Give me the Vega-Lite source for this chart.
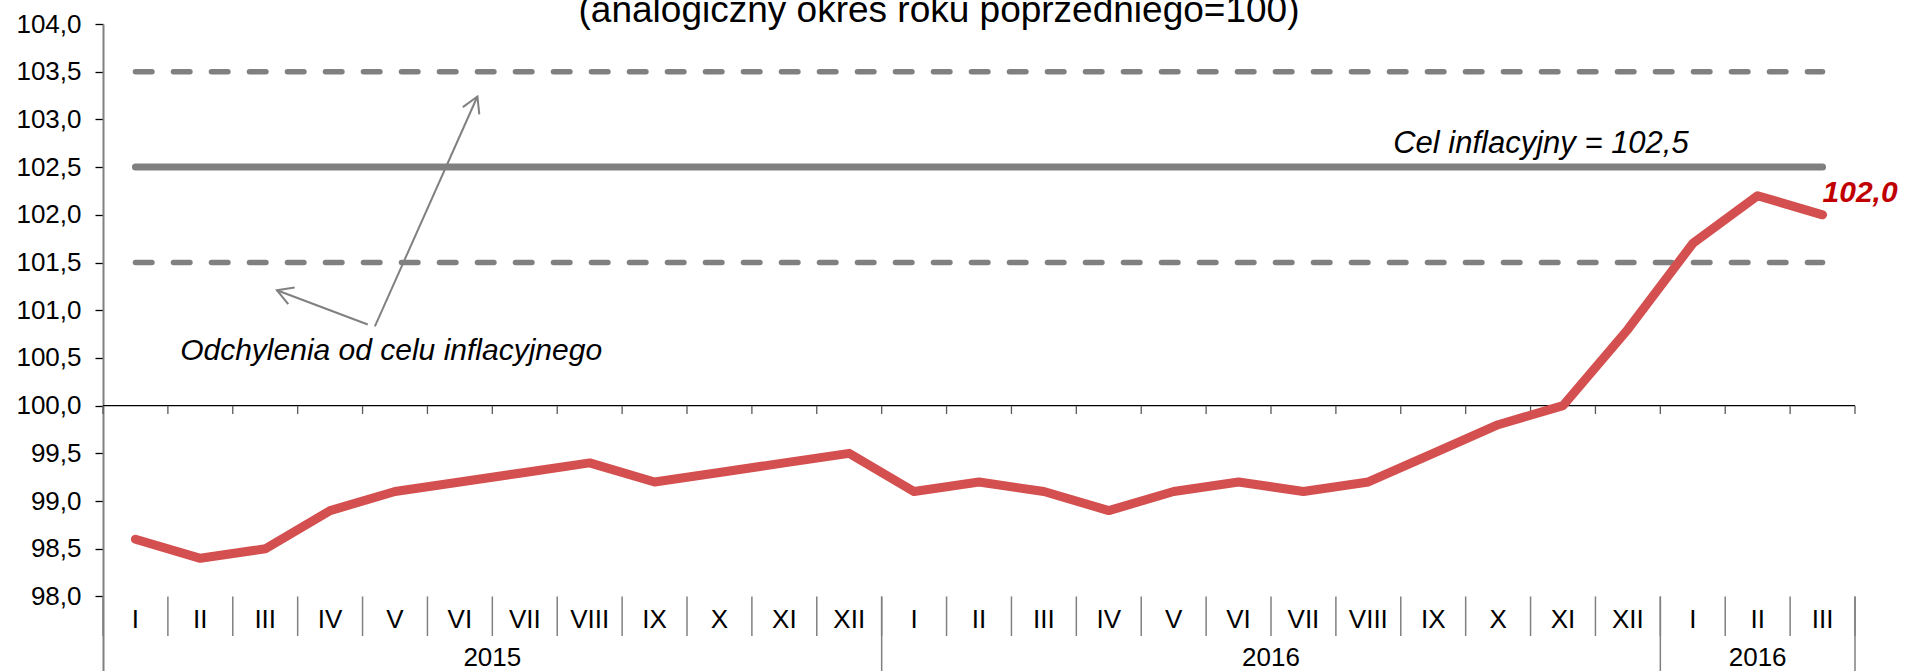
{
  "$schema": "https://vega.github.io/schema/vega-lite/v6.json",
  "autosize": {"type": "none"},
  "padding": {"left": 103, "top": 24, "right": 52, "bottom": 0},
  "width": 1752,
  "height": 647,
  "title": {
    "text": "(analogiczny okres roku poprzedniego=100)",
    "font": "Liberation Sans",
    "fontSize": 37,
    "fontWeight": "normal",
    "color": "#000000",
    "anchor": "middle",
    "offset": 0,
    "dx": -40,
    "dy": 19
  },
  "config": {
    "view": {"stroke": null},
    "locale": {"number": {"decimal": ",", "thousands": " ", "grouping": [3], "currency": ["", " zł"]}},
    "font": "Liberation Sans"
  },
  "datasets": {
    "cpi": [
      {"i": 0, "m": "I", "v": 98.6}, {"i": 1, "m": "II", "v": 98.4}, {"i": 2, "m": "III", "v": 98.5},
      {"i": 3, "m": "IV", "v": 98.9}, {"i": 4, "m": "V", "v": 99.1}, {"i": 5, "m": "VI", "v": 99.2},
      {"i": 6, "m": "VII", "v": 99.3}, {"i": 7, "m": "VIII", "v": 99.4}, {"i": 8, "m": "IX", "v": 99.2},
      {"i": 9, "m": "X", "v": 99.3}, {"i": 10, "m": "XI", "v": 99.4}, {"i": 11, "m": "XII", "v": 99.5},
      {"i": 12, "m": "I", "v": 99.1}, {"i": 13, "m": "II", "v": 99.2}, {"i": 14, "m": "III", "v": 99.1},
      {"i": 15, "m": "IV", "v": 98.9}, {"i": 16, "m": "V", "v": 99.1}, {"i": 17, "m": "VI", "v": 99.2},
      {"i": 18, "m": "VII", "v": 99.1}, {"i": 19, "m": "VIII", "v": 99.2}, {"i": 20, "m": "IX", "v": 99.5},
      {"i": 21, "m": "X", "v": 99.8}, {"i": 22, "m": "XI", "v": 100.0}, {"i": 23, "m": "XII", "v": 100.8},
      {"i": 24, "m": "I", "v": 101.7}, {"i": 25, "m": "II", "v": 102.2}, {"i": 26, "m": "III", "v": 102.0}
    ],
    "bounds": [
      {"b": -0.5}, {"b": 0.5}, {"b": 1.5}, {"b": 2.5}, {"b": 3.5}, {"b": 4.5}, {"b": 5.5},
      {"b": 6.5}, {"b": 7.5}, {"b": 8.5}, {"b": 9.5}, {"b": 10.5}, {"b": 11.5}, {"b": 12.5},
      {"b": 13.5}, {"b": 14.5}, {"b": 15.5}, {"b": 16.5}, {"b": 17.5}, {"b": 18.5}, {"b": 19.5},
      {"b": 20.5}, {"b": 21.5}, {"b": 22.5}, {"b": 23.5}, {"b": 24.5}, {"b": 25.5}, {"b": 26.5}
    ],
    "yearBounds": [{"b": 11.5}, {"b": 23.5}, {"b": 26.5}],
    "years": [{"label": "2015", "c": 5.5}, {"label": "2016", "c": 17.5}, {"label": "2016", "c": 25}],
    "targets": [{"v": 103.5, "kind": "band"}, {"v": 101.5, "kind": "band"}, {"v": 102.5, "kind": "target"}],
    "arrows": [
      {"id": 1, "x": 3.69, "y": 100.83, "x2": 5.27, "y2": 103.24},
      {"id": 2, "x": 3.58, "y": 100.85, "x2": 2.18, "y2": 101.21}
    ],
    "notes": [
      {"t": "Cel inflacyjny = 102,5", "x": 21.66, "y": 102.645, "k": "cel"},
      {"t": "Odchylenia od celu inflacyjnego", "x": 3.94, "y": 100.48, "k": "odch"}
    ]
  },
  "encoding": {
    "x": {"type": "quantitative", "scale": {"domain": [-0.5, 26.5], "nice": false, "zero": false}, "axis": null},
    "y": {"type": "quantitative", "scale": {"domain": [97.219, 104], "nice": false, "zero": false}}
  },
  "layer": [
    {
      "data": {"name": "targets"},
      "transform": [{"filter": "datum.kind == 'band'"}],
      "mark": {"type": "rule", "color": "#808080", "strokeWidth": 5.5, "strokeDash": [16.5, 21.5], "strokeCap": "round"},
      "encoding": {
        "x": {"datum": 0},
        "x2": {"datum": 26},
        "y": {
          "field": "v", "type": "quantitative",
          "axis": {
            "values": [98, 98.5, 99, 99.5, 100, 100.5, 101, 101.5, 102, 102.5, 103, 103.5, 104],
            "format": ".1f", "title": null, "grid": false,
            "labelFont": "Liberation Sans", "labelFontSize": 26, "labelColor": "#000000",
            "labelPadding": 14, "tickSize": 8, "tickColor": "#000000", "tickWidth": 1.3,
            "domainColor": "#808080", "domainWidth": 2
          }
        }
      }
    },
    {
      "data": {"name": "targets"},
      "transform": [{"filter": "datum.kind == 'target'"}],
      "mark": {"type": "rule", "color": "#808080", "strokeWidth": 7, "strokeCap": "round"},
      "encoding": {"x": {"datum": 0}, "x2": {"datum": 26}, "y": {"field": "v", "type": "quantitative"}}
    },
    {
      "data": {"name": "arrows"},
      "mark": {"type": "rule", "color": "#808080", "strokeWidth": 2},
      "encoding": {
        "x": {"field": "x", "type": "quantitative"},
        "x2": {"field": "x2"},
        "y": {"field": "y", "type": "quantitative"},
        "y2": {"field": "y2"}
      }
    },
    {
      "data": {"name": "arrows"},
      "transform": [{"filter": "datum.id == 1"}],
      "mark": {"type": "point", "shape": "M -0.5 0.866 L 0 0 L 0.5 0.866", "filled": false, "stroke": "#808080", "strokeWidth": 2, "size": 1296, "angle": 24, "opacity": 1},
      "encoding": {"x": {"field": "x2", "type": "quantitative"}, "y": {"field": "y2", "type": "quantitative"}}
    },
    {
      "data": {"name": "arrows"},
      "transform": [{"filter": "datum.id == 2"}],
      "mark": {"type": "point", "shape": "M -0.5 0.866 L 0 0 L 0.5 0.866", "filled": false, "stroke": "#808080", "strokeWidth": 2, "size": 1296, "angle": 291, "opacity": 1},
      "encoding": {"x": {"field": "x2", "type": "quantitative"}, "y": {"field": "y2", "type": "quantitative"}}
    },
    {
      "data": {"name": "notes"},
      "transform": [{"filter": "datum.k == 'cel'"}],
      "mark": {"type": "text", "font": "Liberation Sans", "fontStyle": "italic", "fontSize": 31, "color": "#000000", "align": "center", "baseline": "alphabetic"},
      "encoding": {"x": {"field": "x", "type": "quantitative"}, "y": {"field": "y", "type": "quantitative"}, "text": {"field": "t"}}
    },
    {
      "data": {"name": "notes"},
      "transform": [{"filter": "datum.k == 'odch'"}],
      "mark": {"type": "text", "font": "Liberation Sans", "fontStyle": "italic", "fontSize": 30, "color": "#000000", "align": "center", "baseline": "alphabetic"},
      "encoding": {"x": {"field": "x", "type": "quantitative"}, "y": {"field": "y", "type": "quantitative"}, "text": {"field": "t"}}
    },
    {
      "data": {"values": [{"v": 100}]},
      "mark": {"type": "rule", "color": "#000000", "strokeWidth": 1.3},
      "encoding": {"x": {"datum": -0.5}, "x2": {"datum": 26.5}, "y": {"field": "v", "type": "quantitative"}}
    },
    {
      "data": {"name": "bounds"},
      "mark": {"type": "rule", "color": "#595959", "strokeWidth": 1.3},
      "encoding": {"x": {"field": "b", "type": "quantitative"}, "y": {"datum": 100}, "y2": {"datum": 99.913}}
    },
    {
      "data": {"name": "bounds"},
      "mark": {"type": "rule", "color": "#808080", "strokeWidth": 1.5},
      "encoding": {"x": {"field": "b", "type": "quantitative"}, "y": {"datum": 98}, "y2": {"datum": 97.586}}
    },
    {
      "data": {"name": "yearBounds"},
      "mark": {"type": "rule", "color": "#808080", "strokeWidth": 1.5},
      "encoding": {"x": {"field": "b", "type": "quantitative"}, "y": {"datum": 98}, "y2": {"datum": 97.219}}
    },
    {
      "data": {"name": "cpi"},
      "mark": {"type": "text", "font": "Liberation Sans", "fontSize": 26, "color": "#000000", "align": "center", "baseline": "alphabetic"},
      "encoding": {"x": {"field": "i", "type": "quantitative"}, "y": {"datum": 97.667}, "text": {"field": "m"}}
    },
    {
      "data": {"name": "years"},
      "mark": {"type": "text", "font": "Liberation Sans", "fontSize": 26, "color": "#000000", "align": "center", "baseline": "alphabetic"},
      "encoding": {"x": {"field": "c", "type": "quantitative"}, "y": {"datum": 97.275}, "text": {"field": "label"}}
    },
    {
      "data": {"name": "cpi"},
      "mark": {"type": "line", "color": "#D44F4F", "strokeWidth": 9, "strokeCap": "round", "strokeJoin": "round"},
      "encoding": {"x": {"field": "i", "type": "quantitative"}, "y": {"field": "v", "type": "quantitative"}}
    },
    {
      "data": {"name": "cpi"},
      "transform": [{"filter": "datum.i == 26"}],
      "mark": {"type": "text", "font": "Liberation Sans", "fontStyle": "italic", "fontWeight": "bold", "fontSize": 30, "color": "#C00000", "align": "left", "baseline": "alphabetic", "dx": 0, "dy": -13},
      "encoding": {"x": {"field": "i", "type": "quantitative"}, "y": {"field": "v", "type": "quantitative"}, "text": {"field": "v", "type": "quantitative", "format": ".1f"}}
    }
  ]
}
